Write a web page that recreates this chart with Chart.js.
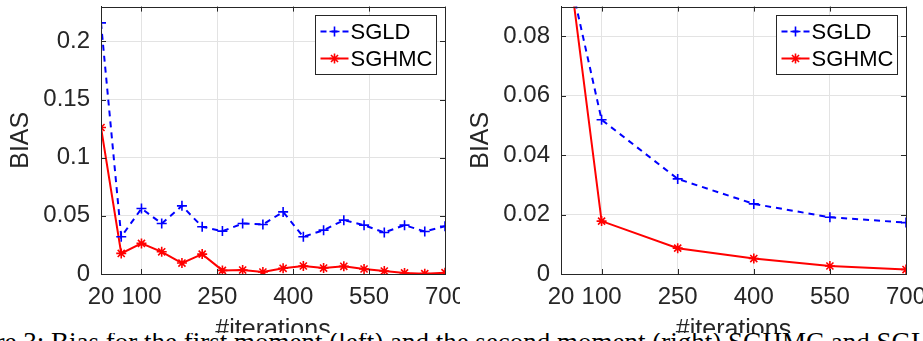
<!DOCTYPE html>
<html lang="en">
<head>
<meta charset="UTF-8">
<title>Bias</title>
<script src="https://cdn.jsdelivr.net/npm/chart.js@4.4.0/dist/chart.umd.min.js"></script>
<style>
  html, body { margin:0; padding:0; background:#fff; }
  #wrap { position:relative; width:923px; height:341px; overflow:hidden; }
  #left { position:absolute; left:0; top:0; }
  #right { position:absolute; left:460px; top:0; }
  #cap { position:absolute; left:0; top:333px; width:923px; height:20px; background:#fff; overflow:hidden; }
  #cap span { position:absolute; left:-54px; top:-4px; white-space:nowrap;
              font-family:"Liberation Serif", "DejaVu Serif", serif; font-size:27px; line-height:27px; color:#000; }
</style>
</head>
<body>
<div id="wrap">
  <canvas id="left" width="460" height="341"></canvas>
  <canvas id="right" width="463" height="341"></canvas>
  <div id="cap"><span>Figure 3: Bias for the first moment (left) and the second moment (right) SGHMC and SGLD.</span></div>
</div>
<script>
// left panel: every 40 iterations
const itersLeft = [20, 60, 100, 140, 180, 220, 260, 300, 340, 380, 420, 460, 500, 540, 580, 620, 660, 700];
const sgldLeft  = [0.216, 0.032, 0.0563, 0.0434, 0.0586, 0.0406, 0.0369, 0.0434, 0.0426, 0.0534,
                   0.032, 0.0377, 0.0463, 0.042, 0.0357, 0.042, 0.0366, 0.0411];
const sghmcLeft = [0.126, 0.0177, 0.0263, 0.0191, 0.0094, 0.0171, 0.0031, 0.0034, 0.0017, 0.0049,
                   0.0069, 0.0051, 0.0066, 0.0043, 0.0026, 0.0009, 0.0003, 0.0011];

// right panel
const itersRight = [20, 100, 250, 400, 550, 700];
const sgldRight  = [0.113, 0.0519, 0.032, 0.0236, 0.0191, 0.0173];
const sghmcRight = [0.125, 0.0178, 0.0087, 0.0052, 0.0027, 0.0015];

const xTicks = [20, 100, 250, 400, 550, 700];
const yTicksLeft  = [0, 0.05, 0.1, 0.15, 0.2];
const yTicksRight = [0, 0.02, 0.04, 0.06, 0.08];
const seriesNames = ["SGLD", "SGHMC"];

const DARK = "#262626";
const GRID = "#e3e3e3";
const FONT = "'Liberation Sans', Arial, sans-serif";

function pts(xs, ys){ return xs.map((x, i) => ({x:x, y:ys[i]})); }

function marker(ctx, style, x, y, r){
  ctx.beginPath();
  ctx.moveTo(x - r, y); ctx.lineTo(x + r, y);
  ctx.moveTo(x, y - r); ctx.lineTo(x, y + r);
  if(style === "star"){
    const d = r * 0.7071;
    ctx.moveTo(x - d, y - d); ctx.lineTo(x + d, y + d);
    ctx.moveTo(x - d, y + d); ctx.lineTo(x + d, y - d);
  }
  ctx.stroke();
}

// box, inner ticks and a matlab style legend
const matlabBox = {
  id: "matlabBox",
  afterDraw(chart){
    const ctx = chart.ctx, a = chart.chartArea;
    const xs = chart.scales.x, ys = chart.scales.y;
    ctx.save();
    ctx.strokeStyle = DARK; ctx.lineWidth = 1;
    ctx.strokeRect(Math.round(a.left) + 0.5, Math.round(a.top) + 0.5,
                   Math.round(a.right - a.left), Math.round(a.bottom - a.top));
    ctx.beginPath();
    xs.ticks.forEach(t => {
      const px = Math.round(xs.getPixelForValue(t.value)) + 0.5;
      ctx.moveTo(px, a.bottom); ctx.lineTo(px, a.bottom - 5);
      ctx.moveTo(px, a.top); ctx.lineTo(px, a.top + 5);
    });
    ys.ticks.forEach(t => {
      const py = Math.round(ys.getPixelForValue(t.value)) + 0.5;
      ctx.moveTo(a.left, py); ctx.lineTo(a.left + 5, py);
      ctx.moveTo(a.right, py); ctx.lineTo(a.right - 5, py);
    });
    ctx.stroke();

    // legend
    const bx = Math.round(a.right) - 130 + 0.5, by = Math.round(a.top) + 8 + 0.5;
    ctx.fillStyle = "#fff";
    ctx.fillRect(bx, by, 121, 59);
    ctx.strokeStyle = DARK;
    ctx.strokeRect(bx, by, 121, 59);
    chart.data.datasets.forEach((ds, i) => {
      const cy = by + 16 + i * 27;
      ctx.strokeStyle = ds.borderColor;
      ctx.lineWidth = ds.borderWidth;
      ctx.setLineDash(ds.borderDash || []);
      ctx.beginPath(); ctx.moveTo(bx + 5, cy); ctx.lineTo(bx + 33, cy); ctx.stroke();
      ctx.setLineDash([]);
      ctx.lineWidth = 1.6;
      marker(ctx, ds.pointStyle, bx + 19, cy, 5);
      ctx.fillStyle = "#000";
      ctx.font = "22px " + FONT;
      ctx.textBaseline = "middle";
      ctx.textAlign = "left";
      ctx.fillText(ds.label, bx + 35, cy + 1);
    });
    ctx.restore();
  }
};

function makeChart(id, xs, sgld, sghmc, yMax, yTicks, rightPad){
  new Chart(document.getElementById(id), {
    type: "line",
    data: {
      datasets: [
        { label: seriesNames[0], data: pts(xs, sgld), borderColor: "#0000ff", backgroundColor: "#0000ff",
          borderWidth: 2, borderDash: [6, 5], pointStyle: "cross", pointRadius: 5, pointBorderWidth: 1.6,
          tension: 0 },
        { label: seriesNames[1], data: pts(xs, sghmc), borderColor: "#ff0000", backgroundColor: "#ff0000",
          borderWidth: 2, pointStyle: "star", pointRadius: 5, pointBorderWidth: 1.6, tension: 0 }
      ]
    },
    options: {
      responsive: false,
      animation: false,
      devicePixelRatio: 1,
      layout: { padding: { left: 0, top: 5, right: rightPad, bottom: 0 } },
      plugins: { legend: { display: false }, tooltip: { enabled: false } },
      scales: {
        x: {
          type: "linear", min: 20, max: 700,
          afterBuildTicks: s => { s.ticks = xTicks.map(v => ({value: v})); },
          afterFit: s => { s.height = 67; s.paddingLeft = 0; s.paddingRight = 0; },
          grid: { color: GRID, drawTicks: false },
          border: { display: true, color: DARK },
          ticks: { autoSkip: false, maxRotation: 0, padding: 9, color: DARK,
                   font: { family: FONT, size: 24 } },
          title: { display: true, text: "#iterations", color: DARK,
                   font: { family: FONT, size: 25, lineHeight: 1 }, padding: { top: 0, bottom: -2 } }
        },
        y: {
          min: 0, max: yMax,
          afterBuildTicks: s => { s.ticks = yTicks.map(v => ({value: v})); },
          afterFit: s => { s.width = 101; s.paddingTop = 0; s.paddingBottom = 0; },
          grid: { color: GRID, drawTicks: false },
          border: { display: true, color: DARK },
          ticks: { padding: 11, color: DARK, font: { family: FONT, size: 24 },
                   callback: v => String(+v.toFixed(4)) },
          title: { display: true, text: "BIAS", color: DARK,
                   font: { family: FONT, size: 25, lineHeight: 1 }, padding: { top: 9, bottom: 0 } }
        }
      }
    },
    plugins: [matlabBox]
  });
}

makeChart("left", itersLeft, sgldLeft, sghmcLeft, 0.23, yTicksLeft, 15);
makeChart("right", itersRight, sgldRight, sghmcRight, 0.09, yTicksRight, 17);
</script>
</body>
</html>
